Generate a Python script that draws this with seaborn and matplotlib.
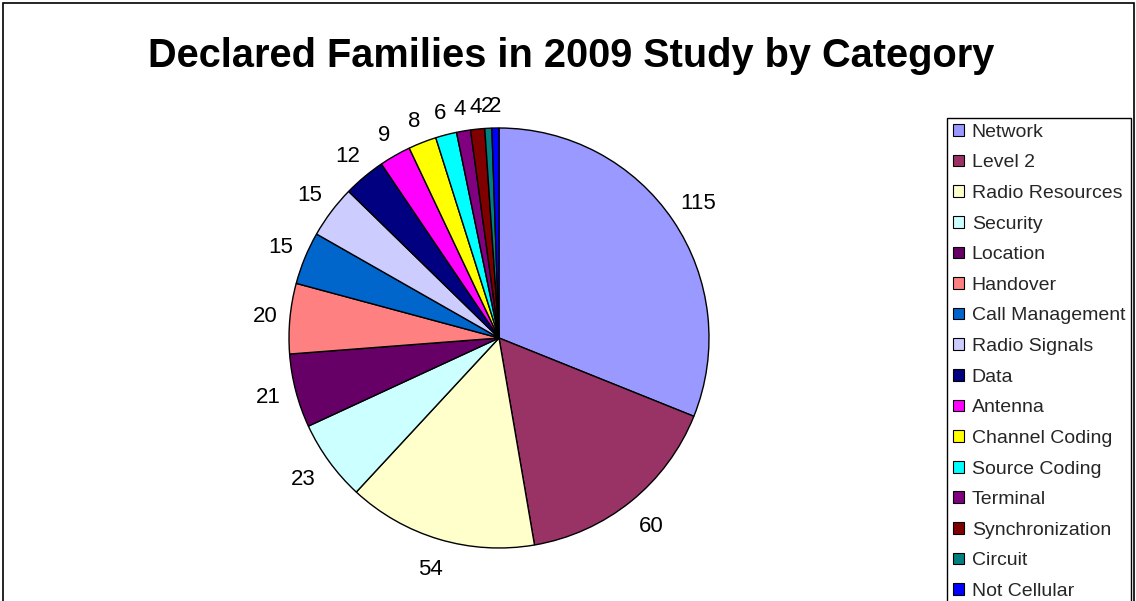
import numpy as np
import matplotlib
matplotlib.use("Agg")
import matplotlib.pyplot as plt
from matplotlib.patches import Patch, Rectangle
import seaborn as sns

# Declared patent families per technical category
categories = [
    "Network", "Level 2", "Radio Resources", "Security", "Location",
    "Handover", "Call Management", "Radio Signals", "Data", "Antenna",
    "Channel Coding", "Source Coding", "Terminal", "Synchronization",
    "Circuit", "Not Cellular",
]
families = [115, 60, 54, 23, 21, 20, 15, 15, 12, 9, 8, 6, 4, 4, 2, 2]
colors = [
    "#9999FF", "#993366", "#FFFFCC", "#CCFFFF", "#660066",
    "#FF8080", "#0066CC", "#CCCCFF", "#000080", "#FF00FF",
    "#FFFF00", "#00FFFF", "#800080", "#800000", "#008080", "#0000FF",
]
title = "Declared Families in 2009 Study by Category"

sns.set_theme(style="white")
plt.rcParams["font.family"] = ["Liberation Sans", "DejaVu Sans"]
palette = sns.color_palette(colors)

W, H = 1136, 601
fig = plt.figure(figsize=(W / 100, H / 100), dpi=100)
fig.patch.set_facecolor("white")

# pie: centre and radius in pixels
cx, cy, r = 499, 338, 210
ax = fig.add_axes([(cx - r) / W, (H - cy - r) / H, 2 * r / W, 2 * r / H])
wedges, texts = ax.pie(
    families,
    labels=[str(v) for v in families],
    colors=palette,
    startangle=90,
    counterclock=False,
    labeldistance=1.1,
    wedgeprops=dict(edgecolor="black", linewidth=1),
    textprops=dict(fontsize=16, color="black"),
)
ax.set_xlim(-1, 1)
ax.set_ylim(-1, 1)
ax.axis("off")

# place each value label just outside the rim, keeping its box clear of the edge
fig.canvas.draw()
renderer = fig.canvas.get_renderer()
gap = 14.0
for w, t in zip(wedges, texts):
    t.set_ha("center")
    t.set_va("center")
    ang = np.deg2rad((w.theta1 + w.theta2) / 2)
    bb = t.get_window_extent(renderer)
    half_w, half_h = bb.width / 2 * 0.85, bb.height / 2 * 0.7
    d = gap + abs(np.cos(ang)) * half_w + abs(np.sin(ang)) * half_h
    d += max(0.0, -np.sin(ang)) * 8.0  # a little more room below the pie
    d = 1 + d / r
    t.set_position((d * np.cos(ang), d * np.sin(ang)))

fig.text(148 / W, 1 - 67 / H, title, ha="left", va="baseline",
         fontsize=28.6, fontweight="bold", color="black")

handles = [Patch(facecolor=c, edgecolor="black", linewidth=0.8) for c in palette]
leg = fig.legend(
    handles, categories,
    loc="upper left", bbox_to_anchor=(947 / W, 1 - 118 / H),
    fontsize=14.0, frameon=True, fancybox=False, edgecolor="black",
    framealpha=1, handlelength=0.55, handleheight=0.55, handletextpad=0.42,
    labelspacing=0.7, borderpad=0.3, borderaxespad=0,
)
leg.get_frame().set_linewidth(1)

# outer chart border
fig.add_artist(Rectangle((2.5 / W, -0.1), (1133.5 - 2.5) / W, 1.1 - 2.5 / H,
                         transform=fig.transFigure, fill=False,
                         edgecolor="black", linewidth=1.2))

fig.savefig("out.png", dpi=100)
